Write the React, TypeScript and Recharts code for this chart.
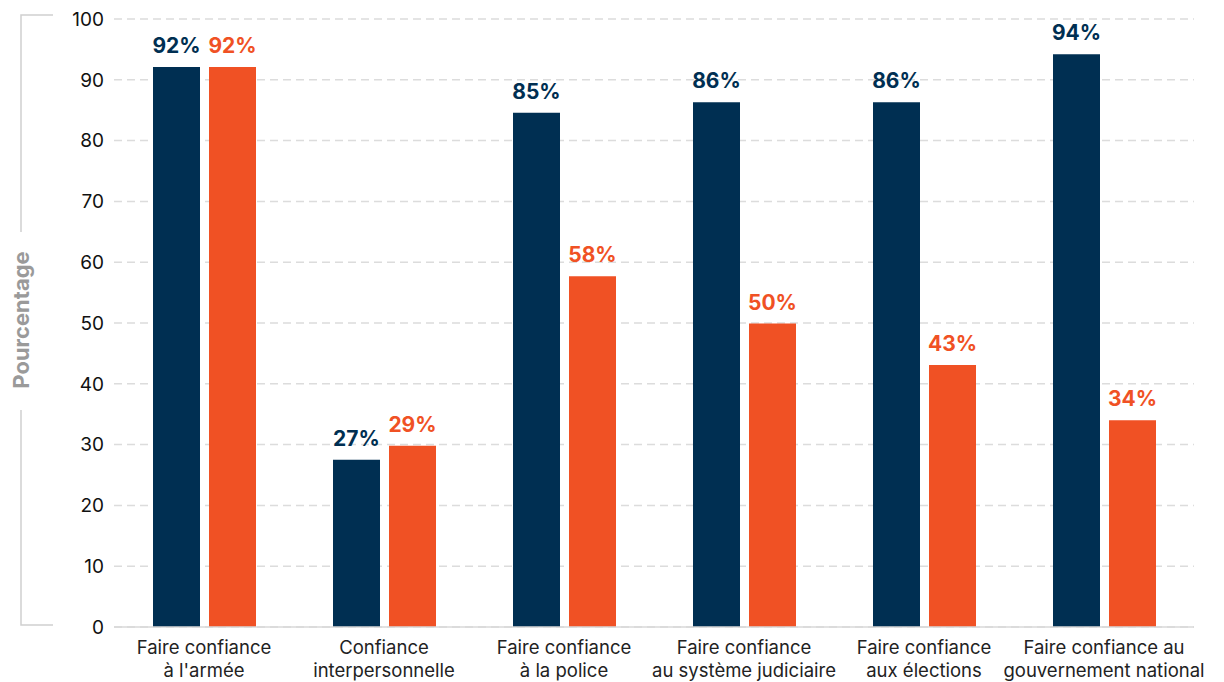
import { Bar, BarChart, CartesianGrid, LabelList, XAxis, YAxis } from 'recharts';

const categories = [
  ['Faire confiance', "à l'armée"],
  ['Confiance', 'interpersonnelle'],
  ['Faire confiance', 'à la police'],
  ['Faire confiance', 'au système judiciaire'],
  ['Faire confiance', 'aux élections'],
  ['Faire confiance au', 'gouvernement national'],
];
const seriesA = [92.1, 27.5, 84.6, 86.3, 86.3, 94.2];
const seriesB = [92.1, 29.8, 57.7, 49.9, 43.1, 34.0];
const labelsA = ['92%', '27%', '85%', '86%', '86%', '94%'];
const labelsB = ['92%', '29%', '58%', '50%', '43%', '34%'];
const yTicks = [0, 10, 20, 30, 40, 50, 60, 70, 80, 90, 100];

const NAVY = '#002f52';
const ORANGE = '#f05124';
const FONT = 'Inter, "Open Sans", sans-serif';

const data = categories.map((c, i) => ({
  name: c.join(' '),
  a: seriesA[i],
  b: seriesB[i],
  la: labelsA[i],
  lb: labelsB[i],
}));

const XTick = (props: any) => {
  const { x, y, index } = props;
  const lines = categories[index] || [];
  return (
    <g transform={`translate(${x},${y})`}>
      {lines.map((l, i) => (
        <text
          key={i}
          x={0}
          y={i * 23}
          dy={19}
          textAnchor="middle"
          fill="#222"
          fontSize={18.5}
          fontFamily={FONT}
        >
          {l}
        </text>
      ))}
    </g>
  );
};

// bracket + rotated title to the left of the y axis
const YTitle = (props: any) => {
  const { viewBox } = props;
  const top = viewBox.y - 4;
  const bottom = viewBox.y + viewBox.height - 2;
  const mid = (top + bottom) / 2;
  const lx = 21;
  return (
    <g>
      <polyline
        points={`53,${top} ${lx},${top} ${lx},${mid - 88}`}
        fill="none"
        stroke="#d0d0d0"
        strokeWidth={1.5}
      />
      <polyline
        points={`${lx},${mid + 90} ${lx},${bottom} 53,${bottom}`}
        fill="none"
        stroke="#d0d0d0"
        strokeWidth={1.5}
      />
      <text
        x={lx + 8}
        y={mid}
        transform={`rotate(-90, ${lx + 8}, ${mid})`}
        textAnchor="middle"
        fill="#9a9a9a"
        fontSize={22}
        fontWeight={700}
        fontFamily={FONT}
      >
        Pourcentage
      </text>
    </g>
  );
};

export default function App() {
  return (
    <div style={{ position: 'absolute', left: 0, top: 0, width: 1224, height: 682, background: '#fff' }}>
      <BarChart
        width={1224}
        height={682}
        data={data}
        margin={{ top: 19, right: 30, left: 8, bottom: 0 }}
        barGap={9}
        barSize={47}
      >
        <CartesianGrid vertical={false} stroke="#dcdcdc" strokeDasharray="8 5" strokeWidth={1.5} />
        <XAxis
          dataKey="name"
          height={55}
          tick={<XTick />}
          tickLine={false}
          axisLine={{ stroke: '#d8d8d8', strokeWidth: 1.5 }}
          interval={0}
        />
        <YAxis
          width={106}
          domain={[0, 100]}
          ticks={yTicks}
          tickLine={false}
          axisLine={false}
          tickMargin={4}
          tick={{ fill: '#111', fontSize: 19, fontFamily: FONT }}
          label={<YTitle />}
        />
        <Bar dataKey="a" fill={NAVY} isAnimationActive={false}>
          <LabelList
            dataKey="la"
            position="top"
            offset={14}
            fill={NAVY}
            fontSize={21}
            fontWeight={700}
            fontFamily={FONT}
          />
        </Bar>
        <Bar dataKey="b" fill={ORANGE} isAnimationActive={false}>
          <LabelList
            dataKey="lb"
            position="top"
            offset={14}
            fill={ORANGE}
            fontSize={21}
            fontWeight={700}
            fontFamily={FONT}
          />
        </Bar>
      </BarChart>
    </div>
  );
}
